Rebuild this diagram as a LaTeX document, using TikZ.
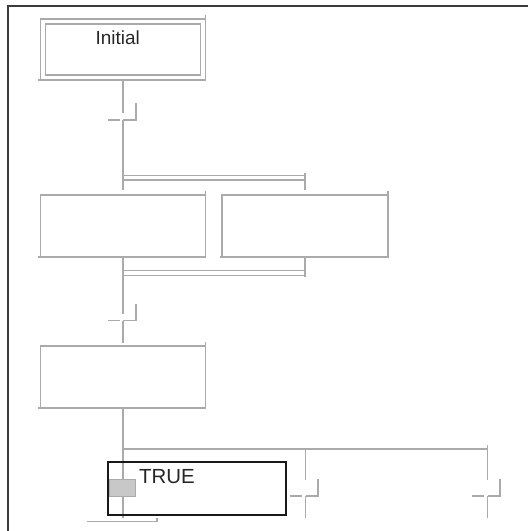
\documentclass[tikz,border=0pt]{standalone}
\usepackage{fontspec}
\setmainfont{Liberation Sans}
\definecolor{lgray}{RGB}{170,170,170}
\definecolor{fgray}{RGB}{200,200,200}
\definecolor{frame}{RGB}{60,60,60}
\tikzset{
  ln/.style={draw=lgray, line width=1.5bp},
  stepbox/.style={draw=lgray, line width=1.5bp, minimum width=165bp, minimum height=62bp, inner sep=0pt, outer sep=0pt},
  innerbox/.style={draw=lgray, line width=1.5bp, minimum width=155bp, minimum height=51bp, inner sep=0pt, outer sep=0pt},
  lbl/.style={inner sep=0pt, font=\fontsize{19}{19}\selectfont, text=black!85},
  selbox/.style={draw=black!90, line width=2bp, minimum width=178bp, minimum height=53bp, inner sep=0pt},
  active/.style={fill=fgray, draw=lgray, line width=0.8bp, minimum width=26bp, minimum height=17bp, inner sep=0pt}
}
\begin{document}
\begin{tikzpicture}[x=1bp,y=-1bp]
\useasboundingbox (0,0) rectangle (528,531);
% frame
\draw[frame, line width=2bp] (7.5,531) -- (7.5,6.5) -- (528,6.5);

% initial step
\node[stepbox, minimum height=61bp] (init) at (123,49.5) {};
\node[innerbox] (initin) at (123,49.5) {};
\draw[ln] (init.north east) -- ++(0,-4);
\draw[ln] (init.south west) -- ++(-2,0);
\node[lbl, anchor=base west] (initlbl) at (95.5,45) {Initial};

% transition 1
\coordinate (t1) at (123,120);
\draw[ln] (init.south) -- ([yshift=7bp]t1);
\draw[ln] ([xshift=-15bp]t1) -- ([xshift=-3bp]t1);
\draw[ln] (t1) -- ([xshift=13bp]t1) -- ([xshift=13bp,yshift=17bp]t1);

% steps A and B
\node[stepbox] (sA) at (123,226) {};
\node[stepbox, minimum width=166bp] (sB) at (305,226) {};
\foreach \s in {sA,sB}{
  \draw[ln] (\s.north east) -- ++(0,-4);
  \draw[ln] (\s.south west) -- ++(-2,0);
}
\draw[ln, shorten >=5bp] (t1) -- (sA.north);

% parallel divergence
\coordinate (pd1) at (123,175.7);
\coordinate (pd2) at (123,180);
\draw[ln] (pd1) -- (pd1 -| sB.north);
\draw[ln] (pd2) -- (pd2 -| sB.north);
\draw[ln, shorten >=5bp] ([yshift=3bp]pd1 -| sB.north) -- (sB.north);

% parallel convergence
\coordinate (pc1) at (123,270.7);
\coordinate (pc2) at (123,275.7);
\draw[ln] (pc1) -- (pc1 -| sB.south);
\draw[ln] (pc2) -- (pc2 -| sB.south);
\draw[ln] (sB.south) -- ([yshift=-1.5bp]pc2 -| sB.south);

% transition 2
\coordinate (t2) at (123,320.5);
\draw[ln] (sA.south) -- ([yshift=7bp]t2);
\draw[ln] ([xshift=-15bp]t2) -- ([xshift=-3bp]t2);
\draw[ln] (t2) -- ([xshift=13bp]t2) -- ([xshift=13bp,yshift=17bp]t2);

% step C
\node[stepbox] (sC) at (123,377) {};
\draw[ln] (sC.north east) -- ++(0,-4);
\draw[ln] (sC.south west) -- ++(-2,0);
\draw[ln, shorten >=3bp] (t2) -- (sC.north);

% alternative divergence
\coordinate (ad) at (123,449);
\coordinate (adm) at (305.7,449);
\coordinate (adr) at (487.7,449);
\coordinate (bot) at (123,518);
\draw[ln] (sC.south) -- (bot);
\draw[ln] (ad) -- (adr);
\coordinate (tm) at (305.7,496);
\coordinate (tr) at (487.7,496);
\draw[ln] (adm) -- ([yshift=16bp]tm);
\draw[ln] ([yshift=4bp]adr) -- ([yshift=16bp]tr);
\foreach \t in {tm,tr}{
  \draw[ln] ([xshift=-16bp]\t) -- ([xshift=-4bp]\t);
  \draw[ln] (\t) -- ([xshift=12.5bp]\t) -- ([xshift=12.5bp,yshift=17bp]\t);
  \draw[ln] (\t) -- ++(0,22);
}

% bottom step top edge
\coordinate (bl) at (87,521.5);
\coordinate (br) at (157,521.5);
\draw[ln] (bl) -- (br) -- ++(0,-4);

% active marker and selection
\node[active] (act) at (122.7,488.3) {};
\node[selbox] (sel) at (196.5,488) {};
\node[lbl, font=\fontsize{20.5}{20.5}\selectfont, anchor=base west] (truelbl) at (139,483) {TRUE};
\end{tikzpicture}
\end{document}
